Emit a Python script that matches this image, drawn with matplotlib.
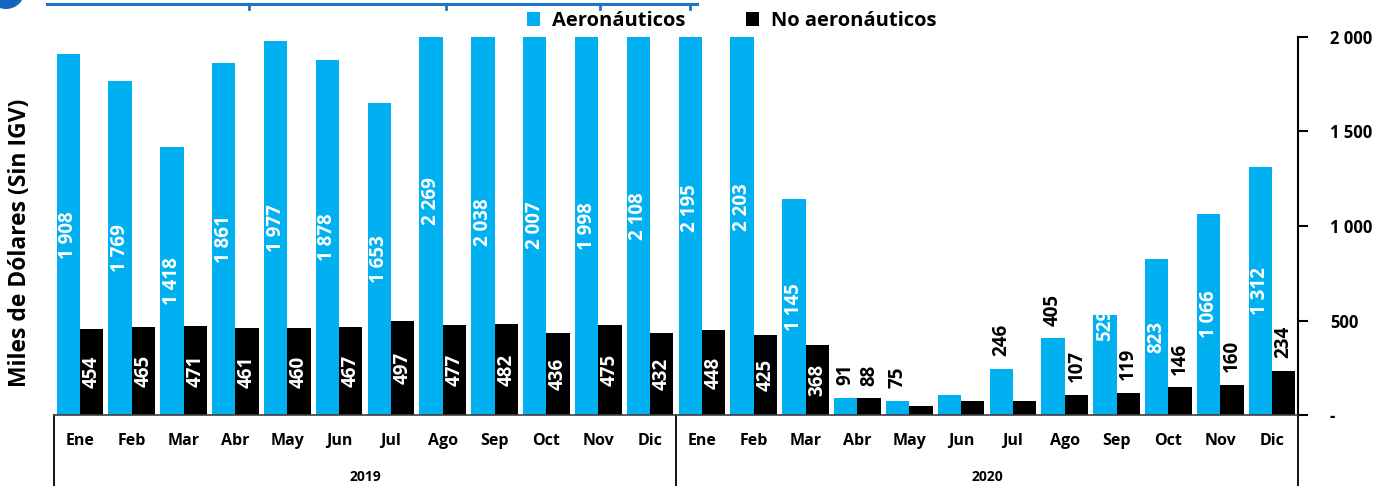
import matplotlib
matplotlib.use("Agg")
import matplotlib.pyplot as plt
from matplotlib.patches import Patch, Circle
from matplotlib.lines import Line2D
from matplotlib.transforms import IdentityTransform
import numpy as np

plt.rcParams['font.family'] = ['Open Sans', 'DejaVu Sans']

# ---- data -------------------------------------------------------------
months = ["Ene", "Feb", "Mar", "Abr", "May", "Jun",
          "Jul", "Ago", "Sep", "Oct", "Nov", "Dic"]
years = ["2019", "2020"]

aeronauticos = [1908, 1769, 1418, 1861, 1977, 1878, 1653, 2269, 2038, 2007, 1998, 2108,
                2195, 2203, 1145, 91, 75, 104, 246, 405, 529, 823, 1066, 1312]
no_aeronauticos = [454, 465, 471, 461, 460, 467, 497, 477, 482, 436, 475, 432,
                   448, 425, 368, 88, 48, 74, 74, 107, 119, 146, 160, 234]

# how each value label is placed: 'in' centred white, 'out' above the bar,
# 'end' near the bar top, '' no label
aero_label_mode = ['in'] * 15 + ['out', 'out', '', 'out', 'out', 'end', 'in', 'in', 'in']
noaero_label_mode = ['in'] * 15 + ['out', '', '', '', 'out', 'out', 'out', 'out', 'out']

y_ticks = [0, 500, 1000, 1500, 2000]
y_ticklabels = ["-", "500", "1 000", "1 500", "2 000"]

BLUE = "#00B0F0"
BLACK = "#000000"

def fmt(v):
    return f"{v:,}".replace(",", " ")

# ---- figure -------------------------------------------------------------
W, H = 1383, 486
fig = plt.figure(figsize=(W / 100, H / 100), dpi=100)
ax = fig.add_axes([54 / W, (H - 415) / H, (1298 - 54) / W, (415 - 37) / H])

n = len(aeronauticos)
x = np.arange(n)
bw = 0.45
ax.bar(x - bw / 2, aeronauticos, width=bw, color=BLUE, linewidth=0)
ax.bar(x + bw / 2, no_aeronauticos, width=bw, color=BLACK, linewidth=0)

ax.set_xlim(-0.5, n - 0.5)
ax.set_ylim(0, 2000)

lab_fs = 13.5
for xs, vals, modes in ((x - bw / 2, aeronauticos, aero_label_mode),
                        (x + bw / 2, no_aeronauticos, noaero_label_mode)):
    for xi, v, m in zip(xs, vals, modes):
        if m == 'in':
            ax.text(xi, v / 2, fmt(v), rotation=90, ha='center', va='center',
                    color='white', fontsize=lab_fs, fontweight='bold')
        elif m == 'out':
            ax.annotate(fmt(v), (xi, v), xytext=(0, 9), textcoords='offset points',
                        rotation=90, ha='center', va='bottom',
                        color='black', fontsize=lab_fs, fontweight='bold')
        elif m == 'end':
            ax.text(xi, v - 135, fmt(v), rotation=90, ha='center', va='bottom',
                    color='white', fontsize=lab_fs, fontweight='bold', zorder=1)
            # the part of the label above the bar blends into the white background

# axes styling
for s in ('top', 'left'):
    ax.spines[s].set_visible(False)
ax.spines['bottom'].set_color('#404040')
ax.spines['bottom'].set_linewidth(1.2)
ax.spines['right'].set_color('black')
ax.spines['right'].set_linewidth(1.5)

ax.yaxis.tick_right()
ax.set_yticks(y_ticks)
ax.set_yticklabels(y_ticklabels, fontsize=12, fontweight='bold')
ax.tick_params(axis='y', direction='out', length=7, width=1.5, pad=16)
ax.tick_params(axis='y', which='both', left=False)

ax.set_xticks(x)
ax.set_xticklabels(months * 2, fontsize=11.5, fontweight='bold')
ax.tick_params(axis='x', length=0, pad=13)

# year group labels and separators below the axis
for i, yr in enumerate(years):
    ax.text(i * 12 + 5.5, -0.165, yr, transform=ax.get_xaxis_transform(),
            ha='center', va='center', fontsize=10, fontweight='bold')
for xb in (-0.5, 11.5, n - 0.5):
    ax.add_line(Line2D([xb, xb], [0, -0.2], transform=ax.get_xaxis_transform(),
                       color='black', linewidth=1.3, clip_on=False))

fig.text(20 / W, (H - 243) / H, "Miles de Dólares (Sin IGV)", rotation=90,
         ha='center', va='center', fontsize=16.5, fontweight='bold')

# legend
handles = [Patch(facecolor=BLUE, label="Aeronáuticos"),
           Patch(facecolor=BLACK, label="No aeronáuticos")]
fig.legend(handles=handles, loc='center', bbox_to_anchor=(732 / W, (H - 21) / H),
           ncol=2, frameon=False, prop={'weight': 'bold', 'size': 14.5},
           handlelength=0.65, handleheight=0.65, handletextpad=0.6, columnspacing=3.0)

# header decoration at the top edge (pixel coordinates)
hdr = '#1F74C8'
px = IdentityTransform()
fig.add_artist(Circle((6, H + 10), 19, transform=px,
                      facecolor='#1565C0', edgecolor='none'))
fig.add_artist(Line2D([47, 697], [H - 3.5, H - 3.5], transform=px,
                      color=hdr, linewidth=2.2))
for xp in (249, 446, 600, 690):
    fig.add_artist(Line2D([xp, xp], [H - 3.5, H - 9], transform=px,
                          color=hdr, linewidth=2))

fig.savefig("out.png", dpi=100)
